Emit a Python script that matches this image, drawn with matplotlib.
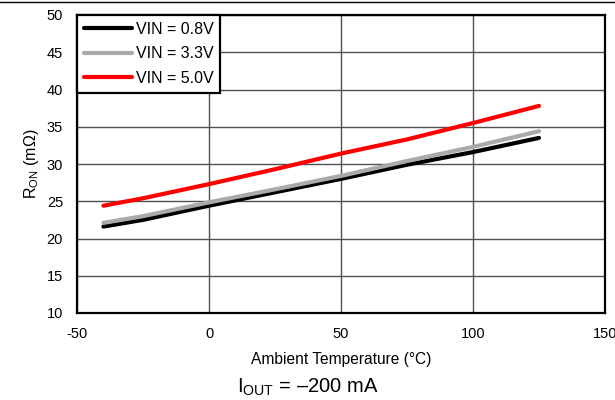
import matplotlib
matplotlib.use("Agg")
import matplotlib.pyplot as plt
from matplotlib.lines import Line2D

plt.rcParams['font.family'] = ['Liberation Sans', 'DejaVu Sans']
plt.rcParams['mathtext.fontset'] = 'custom'
plt.rcParams['mathtext.rm'] = 'Liberation Sans'
plt.rcParams['mathtext.it'] = 'Liberation Sans:italic'
plt.rcParams['axes.unicode_minus'] = False

temps = [-40, -25, 0, 25, 50, 75, 100, 125]
ron_08 = [21.6, 22.5, 24.4, 26.2, 28.0, 29.9, 31.6, 33.5]
ron_33 = [22.1, 23.0, 24.85, 26.6, 28.4, 30.4, 32.3, 34.4]
ron_50 = [24.4, 25.4, 27.3, 29.3, 31.4, 33.3, 35.5, 37.8]
labels = ["VIN = 0.8V", "VIN = 3.3V", "VIN = 5.0V"]
xticks = [-50, 0, 50, 100, 150]
yticks = [10, 15, 20, 25, 30, 35, 40, 45, 50]

fig = plt.figure(figsize=(6.15, 4.0), dpi=100)
ax = fig.add_axes([77/615, 1-313/400, (605-77)/615, (313-15)/400])

ax.plot(temps, ron_08, color='black', lw=3, label=labels[0], solid_capstyle='round', zorder=3)
ax.plot(temps, ron_33, color='#aaaaaa', lw=3, label=labels[1], solid_capstyle='round', zorder=4)
ax.plot(temps, ron_50, color='#ff0000', lw=3, label=labels[2], solid_capstyle='round', zorder=5)

ax.set_xlim(-50, 150)
ax.set_ylim(10, 50)
ax.set_xticks(xticks)
ax.set_yticks(yticks)
ax.grid(True, color='#505050', lw=1)
ax.set_axisbelow(True)
ax.tick_params(length=0, labelsize=10.5, pad=10)
for s in ax.spines.values():
    s.set_color('black')
    s.set_linewidth(1.6)

ax.set_xlabel("Ambient Temperature (°C)", fontsize=11.2, labelpad=8)
ax.set_ylabel("R$_\\mathrm{ON}$ (m\u03a9)", fontsize=11.5, labelpad=4)

leg = ax.legend(loc='upper left', borderaxespad=0, fontsize=11.5, fancybox=False,
                framealpha=1, edgecolor='black', handlelength=3.0, handletextpad=0.25,
                borderpad=0.42, labelspacing=0.6)
leg.get_frame().set_linewidth(1.6)

fig.text(0.5, 1-387/400, "I$_\\mathrm{OUT}$ = \u2013200 mA", fontsize=14.5, ha='center', va='center')
fig.add_artist(Line2D([0, 1], [1-1.5/400, 1-1.5/400], color='black', lw=1))

fig.savefig("out.png", dpi=100)
